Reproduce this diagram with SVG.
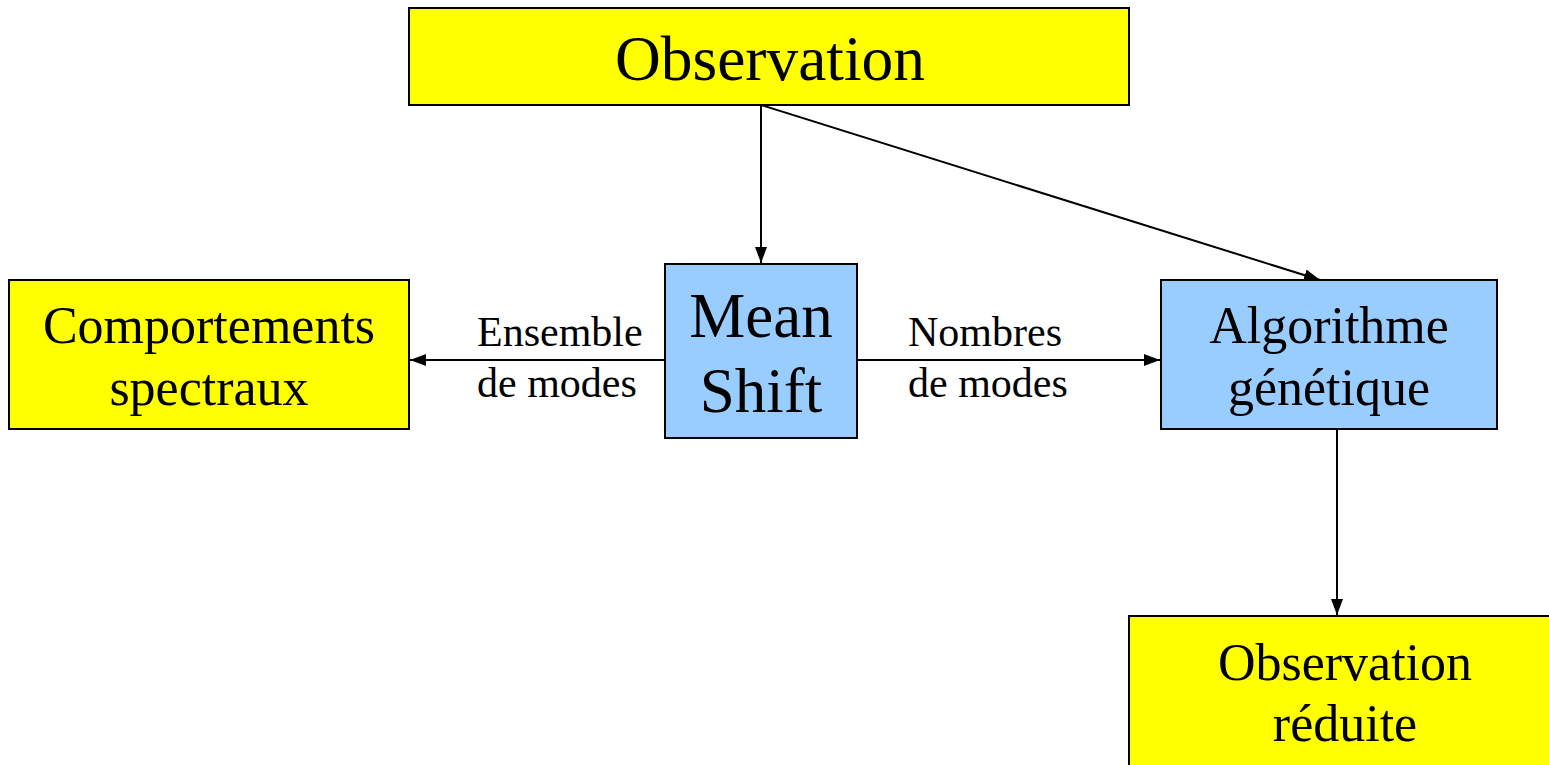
<svg xmlns="http://www.w3.org/2000/svg" width="1549" height="765" viewBox="0 0 1549 765">
  <style>
    .box { stroke: #000; stroke-width: 2; }
    .yellow { fill: #FFFF00; }
    .blue { fill: #99CCFF; }
    .t { font-family: "Liberation Serif", "Times New Roman", serif; fill: #000; text-anchor: middle; }
    .big { font-size: 63px; }
    .mid { font-size: 52px; }
    .lbl { font-size: 42px; text-anchor: start; }
    .edge { stroke: #000; stroke-width: 2; fill: none; marker-end: url(#arrow); }
  </style>
  <defs>
    <marker id="arrow" viewBox="0 0 16 12" refX="16" refY="6" markerWidth="16" markerHeight="12" markerUnits="userSpaceOnUse" orient="auto">
      <path d="M0,0 L16,6 L0,12 Z" fill="#000"/>
    </marker>
  </defs>

  <g id="connectors">
    <line class="edge" x1="761" y1="105" x2="761" y2="263"/>
    <line class="edge" x1="761" y1="105" x2="1320" y2="280"/>
    <line class="edge" x1="857" y1="360" x2="1160" y2="360"/>
    <line class="edge" x1="665" y1="360" x2="410" y2="360"/>
    <line class="edge" x1="1337" y1="424" x2="1337" y2="615"/>
  </g>

  <g id="observation">
    <rect class="box yellow" x="409" y="8" width="720" height="97"/>
    <text class="t big" x="770" y="80" textLength="310" lengthAdjust="spacingAndGlyphs">Observation</text>
  </g>

  <g id="comportements">
    <rect class="box yellow" x="9" y="280" width="400" height="149"/>
    <text class="t mid" x="209" y="343">Comportements</text>
    <text class="t mid" x="209" y="405">spectraux</text>
  </g>

  <g id="meanshift">
    <rect class="box blue" x="665" y="264" width="192" height="174"/>
    <text class="t big" x="761" y="337">Mean</text>
    <text class="t big" x="761" y="412">Shift</text>
  </g>

  <g id="algorithme">
    <rect class="box blue" x="1161" y="280" width="336" height="149"/>
    <text class="t mid" x="1329" y="343">Algorithme</text>
    <text class="t mid" x="1329" y="405">génétique</text>
  </g>

  <g id="observation-reduite">
    <rect class="box yellow" x="1129" y="616" width="421" height="150"/>
    <text class="t mid" x="1345" y="680">Observation</text>
    <text class="t mid" x="1345" y="741">réduite</text>
  </g>

  <g id="labels">
    <text class="t lbl" x="477" y="346">Ensemble</text>
    <text class="t lbl" x="477" y="397">de modes</text>
    <text class="t lbl" x="908" y="346">Nombres</text>
    <text class="t lbl" x="908" y="397">de modes</text>
  </g>
</svg>
